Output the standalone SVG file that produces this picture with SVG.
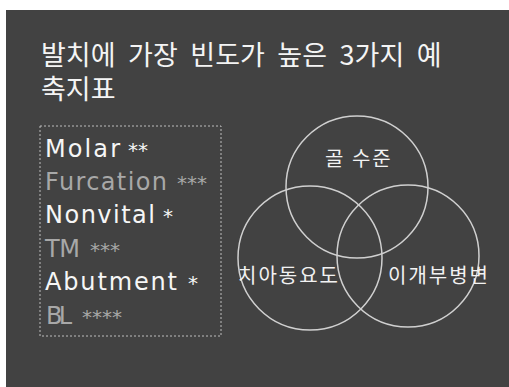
<svg xmlns="http://www.w3.org/2000/svg" width="509" height="387" viewBox="0 0 509 387">
<style>
.title{font-family:"Noto Sans CJK KR","Noto Sans",sans-serif;font-size:27px;fill:#f4f4f4;word-spacing:6.5px}
.item{font-family:"DejaVu Sans","Liberation Sans",sans-serif;font-size:24px}
.w{fill:#f6f6f6}
.g{fill:#a8a8a8}
.star{font-size:20px}
.lab{font-family:"Noto Sans CJK KR",sans-serif;font-size:20px;fill:#f2f2f2;letter-spacing:2px}
.circ{fill:none;stroke:#d0d0d0;stroke-width:1.5}
</style>
<rect x="0" y="0" width="509" height="387" fill="#ffffff"/>
<rect x="6" y="10" width="503" height="377" fill="#424242"/>
<g id="title">
<text class="title" x="41" y="65">발치에 가장 빈도가 높은 3가지 예</text>
<text class="title" x="41" y="99">축지표</text>
</g>
<g id="list">
<rect x="40" y="126" width="181" height="210" fill="none" stroke="#bdbdbd" stroke-width="1" stroke-dasharray="2 2"/>
<text class="item w" x="45" y="157"><tspan textLength="75" lengthAdjust="spacing">Molar</tspan><tspan class="star" x="128">**</tspan></text>
<text class="item g" x="45" y="190"><tspan textLength="122" lengthAdjust="spacing">Furcation</tspan><tspan class="star" x="177">***</tspan></text>
<text class="item w" x="45" y="223"><tspan textLength="110" lengthAdjust="spacing">Nonvital</tspan><tspan class="star" x="163">*</tspan></text>
<text class="item g" x="45" y="257"><tspan textLength="35" lengthAdjust="spacing">TM</tspan><tspan class="star" x="90">***</tspan></text>
<text class="item w" x="45" y="290"><tspan textLength="132" lengthAdjust="spacing">Abutment</tspan><tspan class="star" x="188">*</tspan></text>
<text class="item g" x="46" y="324"><tspan textLength="26" lengthAdjust="spacing">BL</tspan><tspan class="star" x="82">****</tspan></text>
</g>
<g id="venn">
<g id="bone"><circle class="circ" cx="357" cy="187" r="71"/><text class="lab" x="325" y="166">골 수준</text></g>
<g id="mobility"><circle class="circ" cx="310" cy="258" r="72"/><text class="lab" x="238" y="283">치아동요도</text></g>
<g id="furcation"><circle class="circ" cx="408" cy="256" r="71"/><text class="lab" x="388" y="283">이개부병변</text></g>
</g>
</svg>
